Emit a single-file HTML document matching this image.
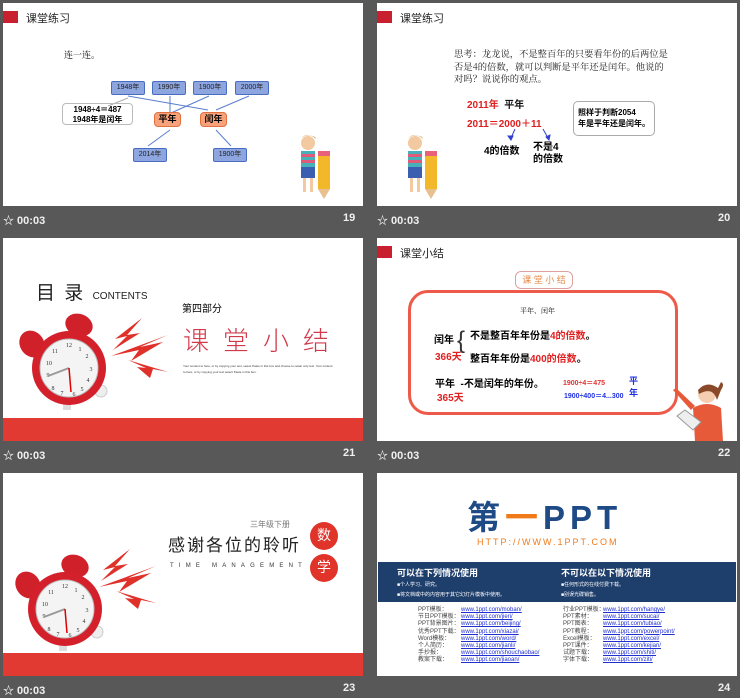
<!DOCTYPE html>
<html><head><meta charset="utf-8"><style>
*{margin:0;padding:0;box-sizing:border-box}
body{width:740px;height:696px;background:#585858;position:relative;overflow:hidden;font-family:"Liberation Sans","Noto Sans CJK SC",sans-serif}
.s{position:absolute;width:360px;height:203px;background:#fff;overflow:hidden}
.a{position:absolute;white-space:nowrap}
.ft{position:absolute;color:#f0f0f0;font-weight:bold;font-size:11px}
.rs{position:absolute;left:0;top:8px;width:15px;height:12px;background:#c8202f}
.tt{position:absolute;left:23px;top:7px;font-size:11px;color:#222}
.bb{position:absolute;height:14px;width:34px;background:#8ea6e0;border:1px solid #4a6cc0;border-radius:2px;font-size:7px;text-align:center;line-height:12px;color:#222}
.ob{position:absolute;height:15px;width:27px;background:#f7a27a;border:1px solid #e07040;border-radius:4px;font-size:9px;font-weight:bold;text-align:center;line-height:13px}
.lk{font-size:6px;line-height:7.2px;color:#444}
.lk u{color:#2030d0}
</style></head><body>

<!-- Slide 19 -->
<div class="s" style="left:3px;top:3px">
<div class="rs"></div><div class="tt">课堂练习</div>
<div class="a" style="left:61px;top:45px;font-size:9px;font-family:'Noto Serif CJK SC',serif">连一连。</div>
<svg class="a" style="left:0;top:0" width="360" height="203">
<g stroke="#5a7ed0" stroke-width="1">
<line x1="125" y1="93" x2="205" y2="107"/><line x1="167" y1="93" x2="167" y2="110"/>
<line x1="206" y1="93" x2="168" y2="110"/><line x1="246" y1="93" x2="213" y2="107"/>
<line x1="167" y1="127" x2="145" y2="143"/><line x1="213" y1="127" x2="228" y2="143"/>
</g><line x1="125" y1="95" x2="105" y2="103" stroke="#aaa"/>
</svg>
<div class="bb" style="left:108px;top:78px">1948年</div>
<div class="bb" style="left:149px;top:78px">1990年</div>
<div class="bb" style="left:190px;top:78px">1900年</div>
<div class="bb" style="left:232px;top:78px">2000年</div>
<div class="ob" style="left:151px;top:109px">平年</div>
<div class="ob" style="left:197px;top:109px">闰年</div>
<div class="bb" style="left:130px;top:145px">2014年</div>
<div class="bb" style="left:210px;top:145px">1900年</div>
<div class="a" style="left:59px;top:100px;width:71px;height:22px;border:1px solid #bbb;border-radius:4px;font-size:8px;font-weight:bold;text-align:center;line-height:10px;padding-top:1px">1948÷4＝487<br>1948年是闰年</div>
<svg class="a" style="left:294px;top:130px" width="40" height="66"><circle cx="11" cy="10" r="7" fill="#f2c9a0"/><path d="M3 6 Q11 -2 19 6 L18 4 Q11 0 4 5Z" fill="#c98a3a"/><rect x="4" y="18" width="14" height="16" fill="#48b0b8"/><rect x="4" y="21" width="14" height="3" fill="#e05b7a"/><rect x="4" y="27" width="14" height="3" fill="#e05b7a"/><rect x="4" y="34" width="14" height="11" fill="#3a5fb0"/><rect x="6" y="45" width="3" height="14" fill="#f2c9a0"/><rect x="13" y="45" width="3" height="14" fill="#f2c9a0"/><rect x="21" y="18" width="12" height="5" fill="#e8607a"/><rect x="21" y="23" width="12" height="33" fill="#f3b82a"/><path d="M21 56 L33 56 L27 66Z" fill="#e8c090"/></svg>
</div>
<div class="ft" style="left:3px;top:212px">☆ 00:03</div><div class="ft" style="left:343px;top:212px">19</div>

<!-- Slide 20 -->
<div class="s" style="left:377px;top:3px">
<div class="rs"></div><div class="tt">课堂练习</div>
<div class="a" style="left:77px;top:44px;font-size:9.3px;line-height:12.5px;color:#222;font-family:'Noto Serif CJK SC',serif;white-space:normal;width:215px">思考：龙龙说，不是整百年的只要看年份的后两位是否是4的倍数，就可以判断是平年还是闰年。他说的对吗？说说你的观点。</div>
<div class="a" style="left:90px;top:93px;font-size:10px;font-weight:bold;color:#e02020">2011年 <span style="color:#111">&nbsp;平年</span></div>
<div class="a" style="left:90px;top:112px;font-size:10px;font-weight:bold;color:#e02020">2011＝2000＋11</div>
<svg class="a" style="left:0;top:0" width="360" height="203"><g stroke="#3040d0" fill="#3040d0"><line x1="138" y1="126" x2="134" y2="135"/><path d="M131 133 L134 137 L136 133Z"/><line x1="166" y1="126" x2="171" y2="135"/><path d="M169 134 L172 137 L173 132Z"/></g></svg>
<div class="a" style="left:107px;top:139px;font-size:10px;font-weight:bold">4的倍数</div>
<div class="a" style="left:156px;top:139px;font-size:10px;font-weight:bold;line-height:12px">不是4<br>的倍数</div>
<div class="a" style="left:196px;top:98px;width:82px;height:35px;border:1px solid #aaa;border-radius:5px;font-size:8px;font-weight:bold;line-height:11px;padding:5px 0 0 4px">照样于判断2054<br>年是平年还是闰年。</div>
<svg class="a" style="left:27px;top:130px" width="40" height="66"><circle cx="11" cy="10" r="7" fill="#f2c9a0"/><path d="M3 6 Q11 -2 19 6 L18 4 Q11 0 4 5Z" fill="#c98a3a"/><rect x="4" y="18" width="14" height="16" fill="#48b0b8"/><rect x="4" y="21" width="14" height="3" fill="#e05b7a"/><rect x="4" y="27" width="14" height="3" fill="#e05b7a"/><rect x="4" y="34" width="14" height="11" fill="#3a5fb0"/><rect x="6" y="45" width="3" height="14" fill="#f2c9a0"/><rect x="13" y="45" width="3" height="14" fill="#f2c9a0"/><rect x="21" y="18" width="12" height="5" fill="#e8607a"/><rect x="21" y="23" width="12" height="33" fill="#f3b82a"/><path d="M21 56 L33 56 L27 66Z" fill="#e8c090"/></svg>
</div>
<div class="ft" style="left:377px;top:212px">☆ 00:03</div><div class="ft" style="left:718px;top:212px">20</div>

<!-- Slide 21 -->
<div class="s" style="left:3px;top:238px">
<div class="a" style="left:33px;top:40px;font-size:19px;color:#222;letter-spacing:2px">目 录 <span style="font-size:10px;letter-spacing:0">CONTENTS</span></div>
<div class="a" style="left:179px;top:62px;font-size:10px">第四部分</div>
<div class="a" style="left:180px;top:83px;font-size:26px;color:#d23a4a;letter-spacing:14px;font-weight:300">课堂小结</div>
<div class="a" style="left:180px;top:125px;width:150px;height:18px;white-space:normal;font-size:3px;line-height:6px;color:#333">Your content to  here, or by copying your text, select Paste in this box and choose to retain only text. Your content to here, or by copying your text select Paste in this box.</div>
<svg class="a" style="left:0;top:0" width="180" height="203">
<g fill="#e0302a"><path d="M139 80 L112 101 L124 98 L110 112 L137 95 L124 97Z"/><path d="M165 97 L108 118 L136 112 L128 123 L160 104 L137 109Z"/><path d="M125 122 L165 134 L150 131 L147 140 L134 129 L143 130Z"/></g>
<ellipse cx="29" cy="106" rx="12" ry="14" fill="#d0202a" transform="rotate(-35 29 106)"/><ellipse cx="76" cy="87" rx="14" ry="11" fill="#d0202a" transform="rotate(20 76 87)"/>
<rect x="60" y="160" width="8" height="12" fill="#ddd"/><circle cx="98" cy="153" r="6" fill="#eee" stroke="#ccc"/>
<circle cx="66" cy="130" r="37" fill="#d4202a"/><circle cx="66" cy="130" r="29" fill="#f4f4f4" stroke="#bbb"/>
<g font-size="6" text-anchor="middle" fill="#333" font-family="Liberation Serif" transform="translate(-1,2)"><text x="67" y="107">12</text><text x="78" y="111">1</text><text x="85" y="118">2</text><text x="89" y="131">3</text><text x="86" y="142">4</text><text x="80" y="151">5</text><text x="72" y="156">6</text><text x="60" y="155">7</text><text x="51" y="150">8</text><text x="46" y="137">9</text><text x="47" y="125">10</text><text x="53" y="113">11</text></g>
<line x1="66" y1="130" x2="45" y2="138" stroke="#999" stroke-width="2"/><line x1="66" y1="130" x2="68" y2="154" stroke="#d00" stroke-width="1.5"/>
</svg>
<div class="a" style="left:0;top:180px;width:360px;height:23px;background:#e03a32"></div>
</div>
<div class="ft" style="left:3px;top:447px">☆ 00:03</div><div class="ft" style="left:343px;top:447px">21</div>

<!-- Slide 22 -->
<div class="s" style="left:377px;top:238px">
<div class="rs"></div><div class="tt">课堂小结</div>
<div class="a" style="left:138px;top:33px;width:58px;height:18px;border:1px solid #e0a0a0;border-radius:6px;font-size:9px;text-align:center;line-height:17px;color:#e88a4a">课 堂 小 结</div>
<div class="a" style="left:31px;top:52px;width:270px;height:125px;border:3px solid #ee5a4a;border-radius:20px"></div>
<div class="a" style="left:143px;top:68px;font-size:7px;font-family:'Noto Serif CJK SC',serif">平年、闰年</div>
<div class="a" style="left:57px;top:93px;font-size:10px;font-weight:bold">闰年</div>
<div class="a" style="left:58px;top:110px;font-size:10px;font-weight:bold;color:#e02020">366天</div>
<div class="a" style="left:80px;top:89px;font-size:24px;font-weight:100;color:#333">{</div>
<div class="a" style="left:93px;top:89px;font-size:10px;font-weight:bold">不是整百年年份是<span style="color:#e02020">4的倍数</span>。</div>
<div class="a" style="left:93px;top:112px;font-size:10px;font-weight:bold">整百年年份是<span style="color:#e02020">400的倍数</span>。</div>
<div class="a" style="left:58px;top:137px;font-size:10px;font-weight:bold">平年 &nbsp;-不是闰年的年份。</div>
<div class="a" style="left:60px;top:151px;font-size:10px;font-weight:bold;color:#e02020">365天</div>
<div class="a" style="left:186px;top:140px;font-size:7px;font-weight:bold;color:#e03030">1900÷4＝475</div>
<div class="a" style="left:187px;top:153px;font-size:7px;font-weight:bold;color:#2030e0">1900÷400＝4...300</div>
<div class="a" style="left:252px;top:137px;font-size:9px;font-weight:bold;color:#2030e0;line-height:12px">平<br>年</div>
<svg class="a" style="left:286px;top:140px" width="74" height="63"><circle cx="44" cy="16" r="9" fill="#f5cdb0"/><path d="M35 12 Q44 2 55 10 L58 4 Q62 6 58 12 L54 22 Q50 8 36 16Z" fill="#8a4a2a"/><path d="M30 30 Q44 22 58 30 L60 63 L32 63Z" fill="#e65a3a"/><path d="M28 32 L10 12 L13 10 L32 28Z" fill="#e65a3a"/><path d="M14 38 L30 52 L38 44 L22 32Z" fill="#eee" stroke="#999"/></svg>
</div>
<div class="ft" style="left:377px;top:447px">☆ 00:03</div><div class="ft" style="left:718px;top:447px">22</div>

<!-- Slide 23 -->
<div class="s" style="left:3px;top:473px">
<div class="a" style="left:247px;top:46px;font-size:8px;color:#777">三年级下册</div>
<div class="a" style="left:165px;top:63px;font-size:17px;line-height:20px;color:#222;letter-spacing:2px">感谢各位的聆听</div>
<div class="a" style="left:167px;top:90px;font-size:6px;color:#333;letter-spacing:5.2px">TIME MANAGEMENT</div>
<div class="a" style="left:307px;top:49px;width:28px;height:28px;border-radius:50%;background:#e0342a;color:#fff;font-size:14px;text-align:center;line-height:27px">数</div>
<div class="a" style="left:307px;top:81px;width:28px;height:28px;border-radius:50%;background:#e0342a;color:#fff;font-size:14px;text-align:center;line-height:27px">学</div>
<svg class="a" style="left:-4px;top:6px" width="180" height="203">
<g fill="#e0302a" transform="translate(-8,-10)"><path d="M139 80 L112 101 L124 98 L110 112 L137 95 L124 97Z"/><path d="M165 97 L108 118 L136 112 L128 123 L160 104 L137 109Z"/><path d="M125 122 L165 134 L150 131 L147 140 L134 129 L143 130Z"/></g>
<ellipse cx="29" cy="106" rx="12" ry="14" fill="#d0202a" transform="rotate(-35 29 106)"/><ellipse cx="76" cy="87" rx="14" ry="11" fill="#d0202a" transform="rotate(20 76 87)"/>
<rect x="60" y="160" width="8" height="12" fill="#ddd"/><circle cx="98" cy="153" r="6" fill="#eee" stroke="#ccc"/>
<circle cx="66" cy="130" r="37" fill="#d4202a"/><circle cx="66" cy="130" r="29" fill="#f4f4f4" stroke="#bbb"/>
<g font-size="6" text-anchor="middle" fill="#333" font-family="Liberation Serif" transform="translate(-1,2)"><text x="67" y="107">12</text><text x="78" y="111">1</text><text x="85" y="118">2</text><text x="89" y="131">3</text><text x="86" y="142">4</text><text x="80" y="151">5</text><text x="72" y="156">6</text><text x="60" y="155">7</text><text x="51" y="150">8</text><text x="46" y="137">9</text><text x="47" y="125">10</text><text x="53" y="113">11</text></g>
<line x1="66" y1="130" x2="45" y2="138" stroke="#999" stroke-width="2"/><line x1="66" y1="130" x2="68" y2="154" stroke="#d00" stroke-width="1.5"/>
</svg>
<div class="a" style="left:0;top:180px;width:360px;height:23px;background:#e03a32"></div>
</div>
<div class="ft" style="left:3px;top:682px">☆ 00:03</div><div class="ft" style="left:343px;top:682px">23</div>

<!-- Slide 24 -->
<div class="s" style="left:377px;top:473px">
<div class="a" style="left:90px;top:28px;font-size:33px;line-height:34px;font-weight:bold;color:#1e4a86;letter-spacing:5px">第<span style="color:#f07a1a">一</span>PPT</div>
<div class="a" style="left:100px;top:64px;font-size:9px;line-height:10px;color:#f07a1a;letter-spacing:2px">HTTP://WWW.1PPT.COM</div>
<div class="a" style="left:1px;top:89px;width:358px;height:40px;background:#1e3e6c;color:#fff">
<div class="a" style="left:19px;top:4px;font-size:9px;font-weight:bold">可以在下列情况使用</div>
<div class="a" style="left:183px;top:4px;font-size:9px;font-weight:bold">不可以在以下情况使用</div>
<div class="a" style="left:19px;top:18px;font-size:5px;line-height:10px">■个人学习、研究。<br>■将文档或中的内容用于其它幻灯片模板中使用。</div>
<div class="a" style="left:183px;top:18px;font-size:5px;line-height:10px">■任何形式的在线付费下载。<br>■别误光碟销售。</div>
</div>
<div class="a lk" style="left:41px;top:134px">PPT模板：<br>节日PPT模板：<br>PPT背景图片：<br>优秀PPT下载：<br>Word模板：<br>个人简历：<br>手抄报：<br>教案下载：</div>
<div class="a lk" style="left:84px;top:134px"><u>www.1ppt.com/moban/<br>www.1ppt.com/jieri/<br>www.1ppt.com/beijing/<br>www.1ppt.com/xiazai/<br>www.1ppt.com/word/<br>www.1ppt.com/jianli/<br>www.1ppt.com/shouchaobao/<br>www.1ppt.com/jiaoan/</u></div>
<div class="a lk" style="left:186px;top:134px">行业PPT模板：<br>PPT素材：<br>PPT图表：<br>PPT教程：<br>Excel模板：<br>PPT课件：<br>试题下载：<br>字体下载：</div>
<div class="a lk" style="left:226px;top:134px"><u>www.1ppt.com/hangye/<br>www.1ppt.com/sucai/<br>www.1ppt.com/tubiao/<br>www.1ppt.com/powerpoint/<br>www.1ppt.com/excel/<br>www.1ppt.com/kejian/<br>www.1ppt.com/shiti/<br>www.1ppt.com/ziti/</u></div>
</div>
<div class="ft" style="left:718px;top:682px">24</div>
</body></html>
